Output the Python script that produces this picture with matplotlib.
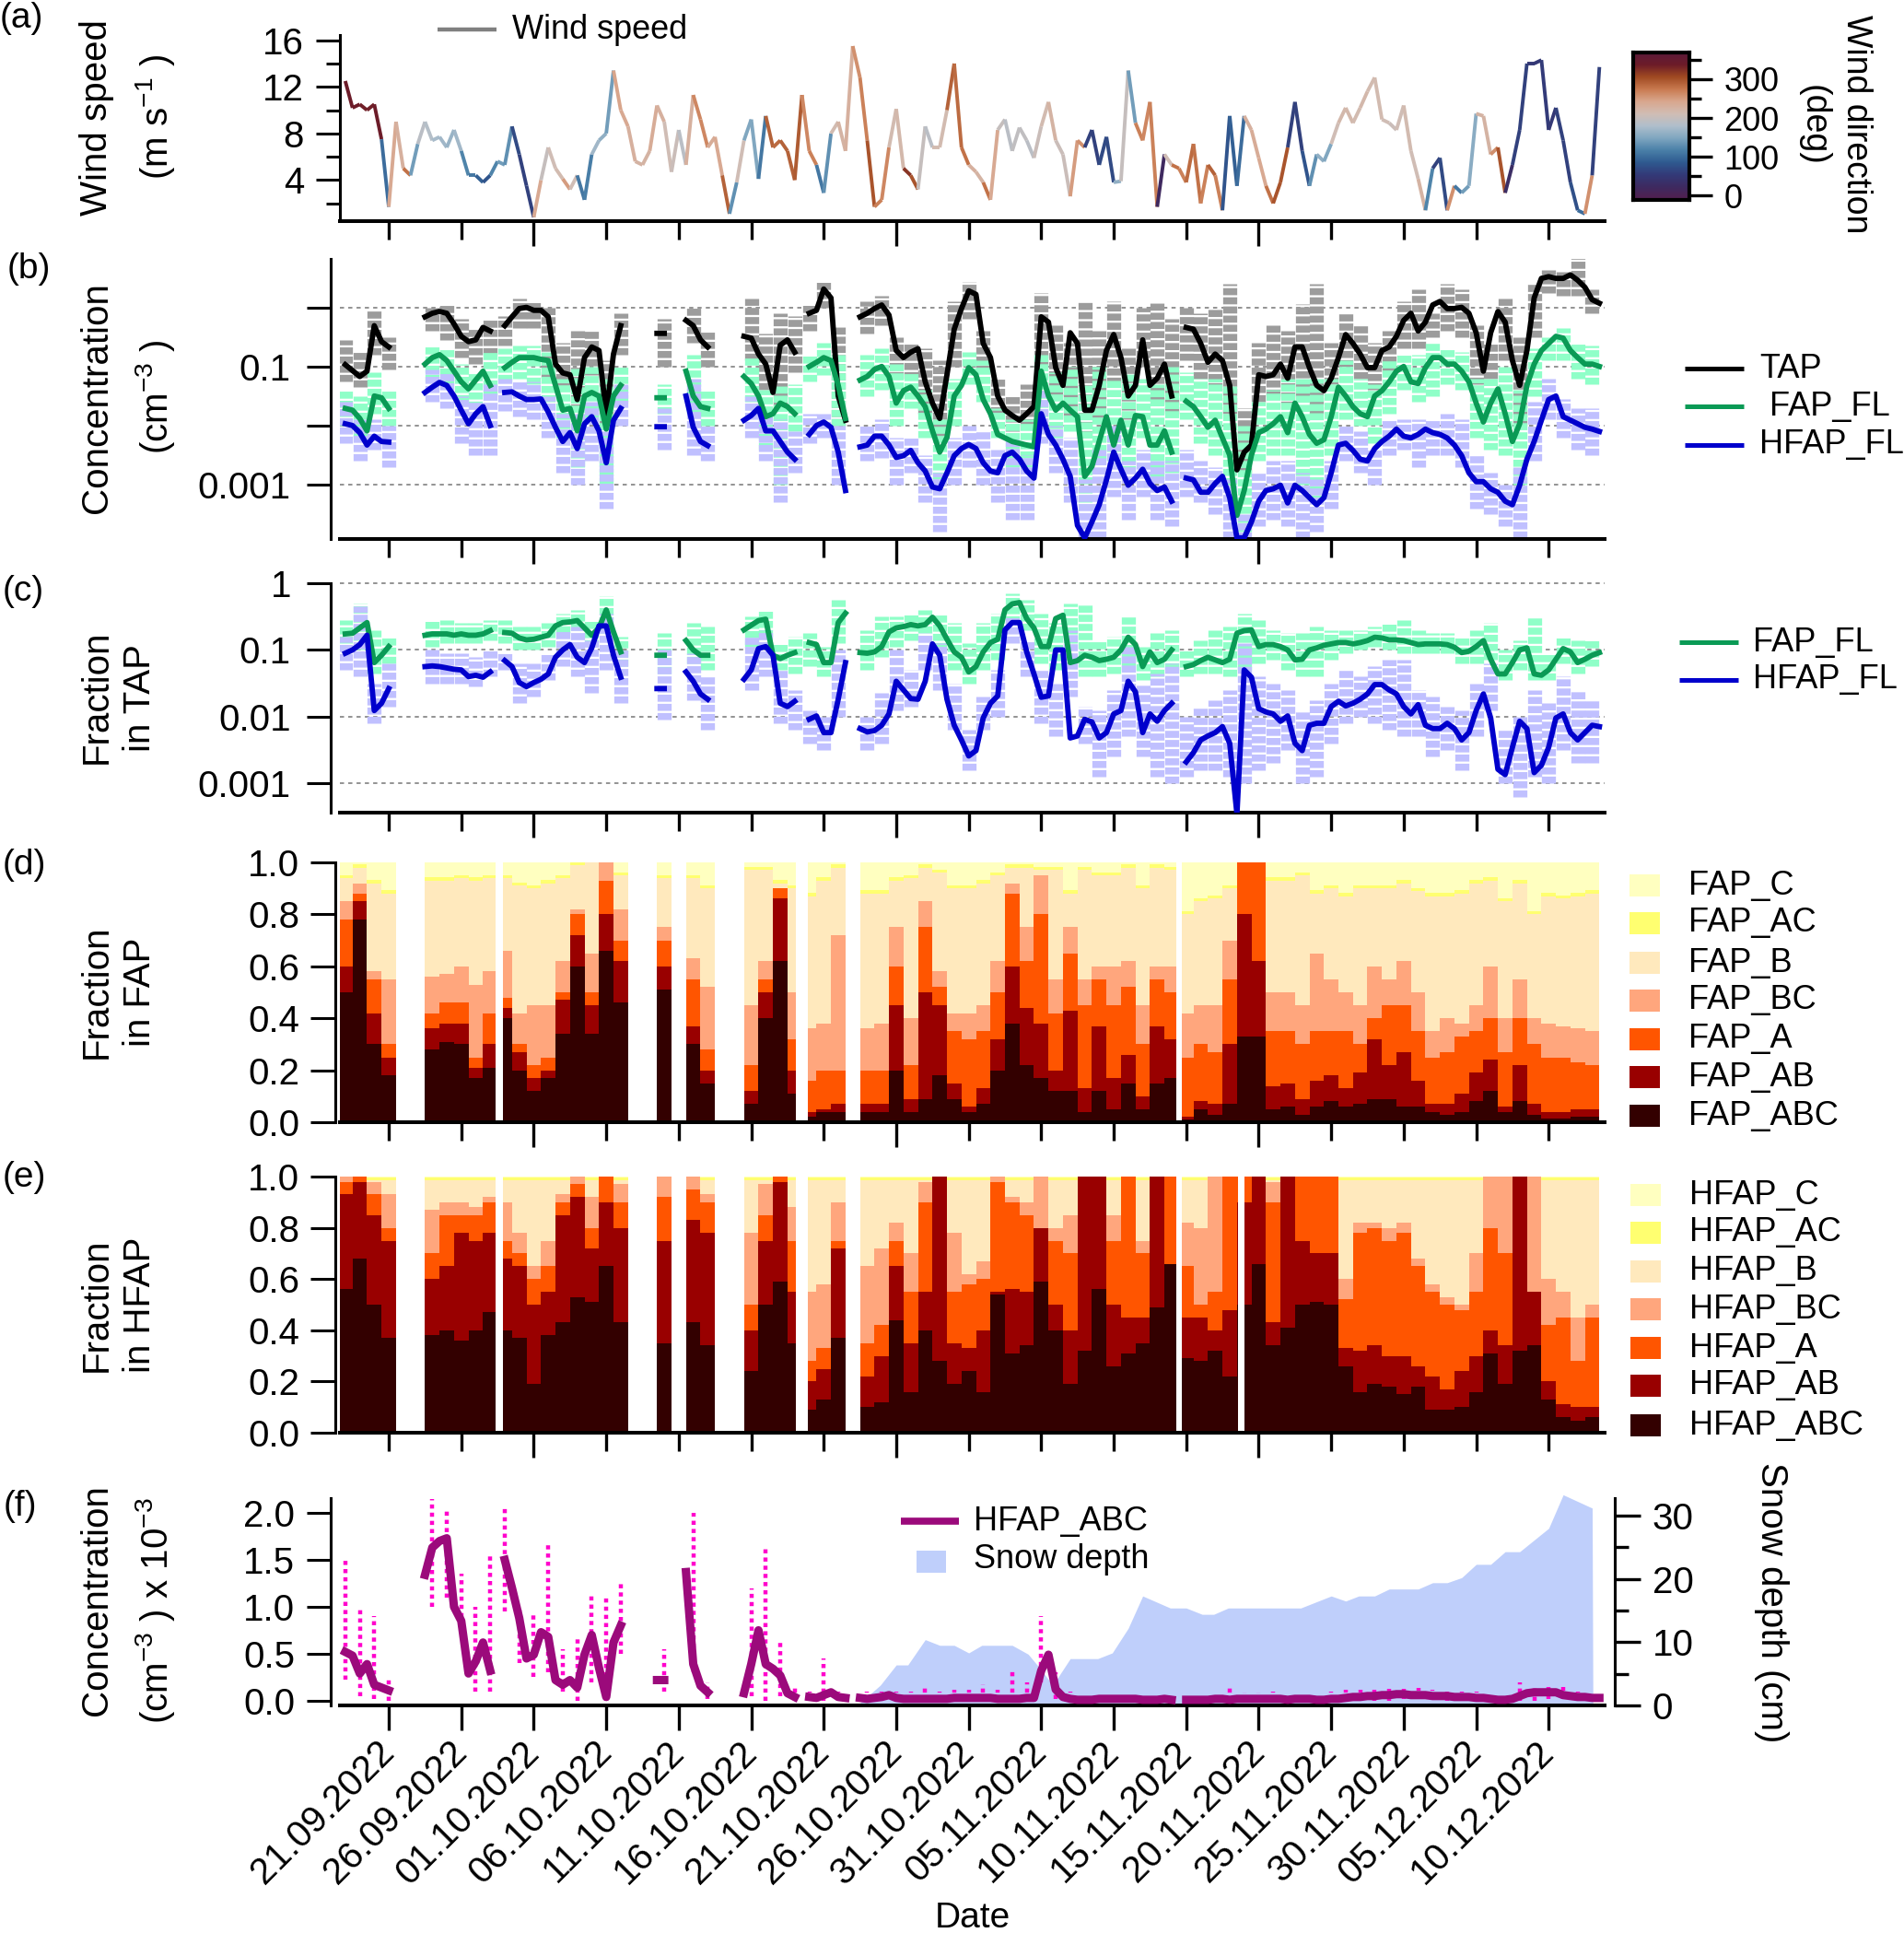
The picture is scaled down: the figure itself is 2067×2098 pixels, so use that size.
"""Six stacked panels: wind, FAP/HFAP concentrations, mixing-state fractions, snow depth.

Time axis is days since 21.09.2022. Line series sit on a half-day grid, the
spread and the stacked fractions on a one-day grid. One row = one 5-day tick.
Concentrations and fractions in (b) and (c) are kept as log10 values.
"""

import matplotlib

matplotlib.use("Agg")
import matplotlib.pyplot as plt
import numpy as np
from matplotlib.collections import LineCollection
from matplotlib.colors import LinearSegmentedColormap
from matplotlib.lines import Line2D
from matplotlib.patches import Rectangle

n = np.nan
W, H = 2067, 2098

date_ticks = [0, 5, 10, 15, 20, 25, 30, 35, 40, 45, 50, 55, 60, 65, 70, 75, 80]
date_labels = ["21.09.2022", "26.09.2022", "01.10.2022", "06.10.2022", "11.10.2022", "16.10.2022",
               "21.10.2022", "26.10.2022", "31.10.2022", "05.11.2022", "10.11.2022", "15.11.2022",
               "20.11.2022", "25.11.2022", "30.11.2022", "05.12.2022", "10.12.2022"]

wind_speed = [
    n, n, n, n, 12.5, 10.2, 10.5, 10.0, 10.5, 7.5,
    1.7, 9.0, 5.0, 4.4, 7.1, 9.0, 7.4, 7.7, 6.8, 8.3,
    6.5, 4.4, 4.4, 3.8, 4.4, 5.6, 5.3, 8.6, 6.2, 3.5,
    0.8, 4.0, 6.8, 5.0, 4.1, 3.2, 4.4, 2.3, 6.2, 7.4,
    8.0, 13.4, 10.0, 8.6, 5.6, 5.3, 6.5, 10.4, 9.0, 4.7,
    8.3, 5.3, 11.3, 9.2, 6.8, 7.7, 4.4, 1.1, 3.8, 7.4,
    9.2, 4.1, 9.5, 6.8, 7.4, 6.5, 4.0, 11.3, 6.5, 5.3,
    2.9, 8.0, 9.0, 6.5, 15.5, 12.8, 7.4, 1.7, 2.3, 6.8,
    10.1, 5.0, 4.4, 3.2, 8.6, 6.8, 6.8, 10.0, 14.0, 6.8,
    5.3, 4.7, 3.8, 2.3, 8.3, 9.2, 6.5, 8.5, 7.4, 5.9,
    8.6, 10.7, 7.4, 6.2, 2.6, 7.4, 6.8, 8.3, 5.3, 7.7,
    3.8, 3.9, 13.4, 8.9, 7.4, 10.7, 1.7, 6.2, 5.3, 5.0,
    3.8, 7.1, 2.0, 5.3, 4.4, 1.4, 9.5, 3.5, 9.5, 8.3,
    5.9, 3.5, 2.0, 3.8, 6.8, 10.7, 6.5, 3.5, 6.2, 5.6,
    7.1, 8.9, 10.2, 8.9, 10.2, 11.6, 12.8, 9.2, 8.9, 8.3,
    10.4, 6.5, 4.1, 1.4, 5.0, 5.9, 1.4, 3.5, 2.9, 3.5,
    9.7, 9.5, 6.2, 6.8, 2.9, 5.3, 8.3, 14.0, 14.0, 14.3,
    8.3, 10.2, 7.4, 3.8, 1.4, 1.1, 4.4, 13.7, n, n]
wind_dir = [
    n, n, n, n, 340, 340, 335, 335, 340, 100,
    240, 230, 280, 140, 190, 185, 175, 170, 165, 170,
    120, 110, 90, 80, 120, 140, 130, 70, 60, 60,
    240, 200, 210, 215, 250, 210, 110, 115, 170, 160,
    140, 245, 240, 230, 225, 225, 235, 230, 210, 205,
    190, 230, 265, 265, 235, 240, 290, 130, 210, 150,
    150, 110, 290, 285, 290, 290, 295, 265, 270, 110,
    130, 215, 225, 230, 260, 270, 300, 270, 265, 215,
    220, 320, 300, 200, 190, 215, 215, 290, 285, 280,
    230, 225, 280, 240, 200, 190, 195, 195, 190, 205,
    215, 225, 205, 205, 250, 260, 60, 60, 70, 70,
    160, 200, 140, 270, 265, 270, 20, 210, 280, 270,
    285, 280, 270, 290, 270, 80, 90, 100, 230, 235,
    240, 280, 300, 300, 60, 60, 80, 130, 160, 150,
    210, 220, 220, 215, 220, 215, 215, 210, 205, 210,
    215, 210, 225, 120, 60, 70, 260, 110, 140, 155,
    225, 225, 260, 300, 30, 60, 60, 50, 50, 55,
    50, 60, 60, 75, 100, 260, 60, 50, n, n]

tap_conc = [
    n, n, n, n, -0.97, -1.07, -1.17, -1.08, -0.31, -0.58,
    -0.67, n, n, n, n, -0.16, -0.1, -0.07, -0.1, -0.28,
    -0.49, -0.58, -0.55, -0.34, -0.4, n, -0.31, -0.16, -0.02, 0.0,
    -0.05, -0.05, -0.16, -0.96, -1.11, -1.14, -1.56, -0.85, -0.67, -0.73,
    -1.8, -0.79, -0.31, n, n, n, n, -0.44, -0.44, n,
    n, -0.22, -0.31, -0.55, -0.67, n, n, n, n, -0.49,
    -0.52, -0.79, -0.96, -1.44, -0.64, -0.55, -0.76, n, -0.1, -0.05,
    0.31, 0.16, -1.5, -1.91, n, -0.16, -0.1, -0.02, 0.04, -0.13,
    -0.73, -0.85, -0.76, -0.7, -1.26, -1.62, -1.88, -1.14, -0.37, -0.02,
    0.28, 0.22, -0.61, -0.85, -1.5, -1.74, -1.83, -1.91, -1.8, -1.68,
    -0.16, -0.25, -1.02, -1.32, -0.43, -0.61, -1.74, -1.74, -1.32, -0.73,
    -0.46, -0.85, -1.5, -1.32, -0.55, -1.32, -1.2, -0.96, -1.5, n,
    -0.34, -0.37, -0.61, -0.93, -0.79, -0.9, -1.32, -2.75, -2.45, -2.33,
    -1.14, -1.17, -1.14, -0.96, -1.2, -0.67, -0.67, -1.02, -1.32, -1.41,
    -1.2, -0.85, -0.46, -0.61, -0.79, -1.02, -1.02, -0.73, -0.67, -0.49,
    -0.22, -0.1, -0.4, -0.25, 0.04, 0.1, -0.02, -0.02, 0.0, -0.1,
    -0.43, -1.08, -0.43, -0.07, -0.25, -0.9, -1.32, -0.73, 0.16, 0.49,
    0.52, 0.49, 0.49, 0.55, 0.46, 0.34, 0.13, 0.07, n, n]
fap_conc = [
    n, n, n, n, -1.71, -1.74, -1.88, -2.09, -1.5, -1.53,
    -1.71, n, n, n, n, -0.96, -0.85, -0.8, -0.9, -1.08,
    -1.26, -1.38, -1.23, -1.08, -1.32, n, -1.02, -0.93, -0.85, -0.85,
    -0.85, -0.88, -0.9, -1.32, -1.74, -1.71, -2.09, -1.5, -1.44, -1.5,
    -2.06, -1.5, -1.32, n, n, n, n, -1.53, -1.53, n,
    n, -1.08, -1.5, -1.68, -1.71, n, n, n, n, -1.17,
    -1.29, -1.5, -1.85, -1.8, -1.62, -1.68, -1.8, n, -1.0, -0.93,
    -0.85, -0.9, -1.32, -1.88, n, -1.23, -1.17, -1.05, -1.0, -1.17,
    -1.62, -1.41, -1.35, -1.5, -1.68, -2.09, -2.45, -2.2, -1.5, -1.32,
    -1.02, -1.14, -1.56, -1.8, -2.15, -2.21, -2.27, -2.3, -2.33, -2.36,
    -1.08, -1.5, -1.74, -1.62, -1.74, -1.85, -2.86, -2.69, -2.27, -1.85,
    -2.33, -1.91, -2.33, -1.83, -1.85, -2.33, -2.33, -2.09, -2.45, n,
    -1.59, -1.68, -1.85, -2.03, -1.91, -2.21, -2.5, -3.52, -3.1, -2.5,
    -2.12, -2.06, -1.97, -1.85, -2.12, -1.62, -1.85, -2.15, -2.3, -2.24,
    -1.85, -1.35, -1.5, -1.68, -1.8, -1.85, -1.5, -1.41, -1.26, -1.08,
    -1.0, -1.26, -1.29, -1.02, -0.85, -0.85, -0.96, -0.96, -1.08, -1.26,
    -1.62, -1.94, -1.62, -1.38, -1.8, -2.27, -1.97, -1.32, -0.96, -0.73,
    -0.61, -0.49, -0.52, -0.73, -0.85, -0.96, -0.96, -1.0, n, n]
hfap_conc = [
    n, n, n, n, -1.97, -2.0, -2.12, -2.33, -2.18, -2.27,
    -2.28, n, n, n, n, -1.44, -1.35, -1.27, -1.32, -1.5,
    -1.74, -1.97, -1.8, -1.68, -2.0, n, -1.44, -1.43, -1.5, -1.56,
    -1.56, -1.55, -1.77, -2.03, -2.27, -2.12, -2.39, -1.97, -1.85, -2.09,
    -2.63, -1.91, -1.71, n, n, n, n, -2.02, -2.02, n,
    n, -1.5, -2.03, -2.27, -2.34, n, n, n, n, -1.91,
    -1.83, -1.71, -2.09, -2.09, -2.27, -2.45, -2.57, n, -2.15, -2.0,
    -1.94, -2.03, -2.45, -3.1, n, -2.36, -2.33, -2.18, -2.18, -2.33,
    -2.54, -2.51, -2.42, -2.63, -2.77, -3.04, -3.07, -2.8, -2.51, -2.39,
    -2.32, -2.39, -2.63, -2.77, -2.8, -2.51, -2.45, -2.57, -2.77, -2.89,
    -1.8, -2.15, -2.33, -2.57, -2.86, -3.69, -3.9, -3.63, -3.34, -2.92,
    -2.45, -2.74, -3.01, -2.89, -2.74, -2.98, -3.1, -3.04, -3.28, n,
    -2.89, -2.92, -3.13, -3.13, -2.98, -2.86, -3.22, -3.9, -3.9, -3.63,
    -3.28, -3.1, -3.07, -3.01, -3.31, -3.01, -3.1, -3.22, -3.34, -3.22,
    -2.8, -2.33, -2.3, -2.42, -2.57, -2.6, -2.39, -2.27, -2.18, -2.06,
    -2.18, -2.21, -2.15, -2.06, -2.12, -2.15, -2.21, -2.33, -2.51, -2.8,
    -2.95, -2.95, -3.07, -3.13, -3.28, -3.34, -3.01, -2.57, -2.27, -1.91,
    -1.56, -1.5, -1.85, -1.91, -1.97, -2.03, -2.06, -2.1, n, n]

# spread of the single points in (b)
tap_hi = [n, n, -0.55, -0.75, -0.05, -0.5, n, n, 0.0, 0.05, -0.2, -0.35, -0.2, -0.15, 0.15,
          0.1, 0.0, -0.6, -0.4, -0.4, -0.9, -0.1, n, n, -0.2, n, 0.0, -0.4, n, n,
          0.15, -0.45, -0.1, -0.15, 0.05, 0.45, -0.3, n, 0.1, 0.2, -0.5, -0.6, -0.7, -0.9, 0.1,
          0.43, -0.4, -1.2, -1.5, -1.3, 0.25, -0.3, -0.6, 0.1, -0.4, 0.1, -0.7, 0.0, 0.1, -0.2,
          0.0, -0.1, 0.0, 0.4, -1.7, -0.6, -0.3, -0.4, 0.05, 0.4, -0.6, -0.1, -0.3, -0.6, -0.4,
          0.1, 0.3, -0.1, 0.4, 0.3, -0.3, -0.6, 0.15, -0.5, 0.4, 0.63, 0.6, 0.87, 0.3, n]
tap_lo = [n, n, -1.25, -1.35, -0.8, -1.05, n, n, -0.4, -0.55, -0.85, -0.95, -0.8, -0.65, -0.35,
          -0.35, -1.2, -1.4, -1.75, -1.15, -2.0, -0.8, n, n, -1.0, n, -0.6, -1.0, n, n,
          -0.9, -1.4, -1.7, -1.1, -0.4, 0.0, -2.0, n, -0.45, -0.3, -1.2, -1.2, -1.8, -2.2, -1.0,
          -0.2, -1.1, -1.8, -2.1, -2.0, -1.0, -1.5, -1.9, -2.2, -1.9, -1.3, -1.9, -1.0, -1.6, -1.8,
          -0.9, -1.2, -1.4, -1.8, -2.8, -1.6, -1.5, -1.7, -1.5, -1.8, -1.3, -1.0, -1.2, -1.4, -1.1,
          -0.7, -0.7, -0.5, -0.4, -0.5, -1.3, -1.2, -0.9, -2.0, -0.5, 0.25, 0.2, 0.2, -0.1, n]
fap_hi = [n, n, -1.4, -1.5, -1.1, -1.4, n, n, -0.65, -0.7, -0.95, -1.1, -0.75, -0.7, -0.65,
          -0.65, -0.75, -1.2, -1.0, -1.0, -1.2, -1.0, n, n, -1.3, n, -0.8, -1.4, n, n,
          -0.85, -1.4, -1.3, -1.3, -0.8, -0.6, -0.8, n, -0.8, -0.7, -0.95, -1.1, -1.4, -1.9, -1.2,
          -0.75, -0.9, -1.7, -1.9, -1.9, -0.8, -1.1, -1.0, -1.3, -1.0, -1.2, -1.1, -1.2, -1.3, -1.0,
          -1.1, -1.2, -1.2, -1.3, -2.0, -1.6, -1.4, -1.2, -1.2, -1.2, -1.2, -0.9, -1.2, -1.3, -0.9,
          -0.8, -0.8, -0.6, -0.7, -0.75, -1.2, -1.2, -1.0, -1.4, -0.7, -0.5, -0.35, -0.6, -0.65, n]
fap_lo = [n, n, -2.0, -2.2, -1.8, -2.0, n, n, -1.25, -1.3, -1.6, -1.7, -1.5, -1.25, -1.2,
          -1.3, -1.6, -2.2, -2.7, -1.9, -3.0, -1.6, n, n, -1.8, n, -1.8, -2.0, n, n,
          -1.6, -2.4, -3.0, -2.1, -1.25, -1.15, -2.0, n, -1.5, -1.4, -2.0, -1.7, -2.2, -2.9, -2.0,
          -1.3, -1.6, -2.2, -2.7, -2.7, -2.0, -2.2, -2.1, -3.3, -2.6, -2.6, -2.8, -2.2, -2.9, -2.8,
          -1.9, -2.3, -2.5, -3.0, -3.8, -2.6, -2.5, -2.5, -3.0, -3.3, -2.5, -1.9, -2.0, -2.3, -1.8,
          -1.4, -1.6, -1.5, -1.3, -1.4, -2.2, -2.4, -2.5, -3.0, -1.5, -0.9, -0.9, -1.2, -1.3, n]
hfap_hi = [n, n, -1.6, -1.9, -1.9, -2.0, n, n, -1.05, -1.1, -1.5, -1.6, -1.3, -1.2, -1.25,
           -1.25, -1.5, -1.8, -1.8, -1.6, -2.1, -1.3, n, n, -1.7, n, -1.2, -2.0, n, n,
           -1.5, -1.8, -1.9, -2.1, -1.8, -1.8, -2.0, n, -2.0, -1.9, -2.2, -2.2, -2.5, -2.8, -2.2,
           -2.0, -2.1, -2.4, -2.2, -2.5, -1.4, -2.0, -2.2, -2.9, -2.4, -2.0, -2.6, -2.4, -2.6, -2.6,
           -2.4, -2.6, -2.7, -2.9, -3.5, -2.8, -2.6, -2.6, -2.8, -2.9, -2.6, -2.0, -2.1, -2.4, -1.9,
           -1.9, -1.9, -1.9, -1.8, -1.9, -2.5, -2.8, -3.0, -2.7, -1.6, -1.2, -1.55, -1.7, -1.7, n]
hfap_lo = [n, n, -2.3, -2.6, -2.4, -2.7, n, n, -1.6, -1.7, -2.3, -2.5, -2.5, -1.75, -1.85,
           -1.9, -2.2, -2.8, -3.0, -2.6, -3.4, -2.0, n, n, -2.4, n, -2.5, -2.6, n, n,
           -2.2, -2.6, -3.3, -2.8, -2.3, -2.2, -3.0, n, -2.6, -2.55, -3.0, -2.8, -3.3, -3.8, -3.0,
           -2.7, -3.0, -3.3, -3.6, -3.6, -2.3, -2.8, -3.3, -3.9, -3.9, -3.2, -3.6, -3.2, -3.6, -3.7,
           -3.2, -3.3, -3.5, -3.9, -3.92, -3.7, -3.6, -3.7, -3.9, -3.8, -3.4, -2.6, -2.8, -3.0, -2.5,
           -2.4, -2.7, -2.5, -2.5, -2.7, -3.4, -3.5, -3.7, -3.9, -2.6, -1.9, -2.2, -2.4, -2.5, n]

fap_in_tap = [
    n, n, n, n, -0.76, -0.75, -0.67, -0.59, -1.19, -1.08,
    -0.95, n, n, n, n, -0.78, -0.76, -0.76, -0.76, -0.78,
    -0.76, -0.78, -0.78, -0.76, -0.71, n, -0.74, -0.75, -0.82, -0.85,
    -0.84, -0.81, -0.78, -0.64, -0.59, -0.58, -0.56, -0.67, -0.78, -0.67,
    -0.4, -0.73, -1.03, n, n, n, n, -1.08, -1.08, n,
    n, -0.86, -1.0, -1.08, -1.08, n, n, n, n, -0.7,
    -0.63, -0.56, -0.54, -1.08, -1.13, -1.08, -1.04, n, -0.89, -0.92,
    -1.19, -1.19, -0.59, -0.45, n, -1.04, -1.05, -1.03, -0.95, -0.73,
    -0.67, -0.65, -0.62, -0.64, -0.62, -0.51, -0.64, -0.84, -1.03, -1.11,
    -1.33, -1.25, -1.03, -0.89, -0.84, -0.4, -0.31, -0.29, -0.53, -0.67,
    -0.95, -0.95, -0.53, -0.48, -1.19, -1.16, -1.08, -1.11, -1.16, -1.14,
    -1.11, -1.0, -0.81, -0.92, -1.25, -1.03, -1.19, -1.14, -1.0, n,
    -1.25, -1.22, -1.16, -1.11, -1.15, -1.19, -1.14, -0.75, -0.71, -0.7,
    -0.95, -0.92, -0.92, -0.95, -1.0, -1.15, -1.14, -1.0, -0.97, -0.93,
    -0.91, -0.89, -0.89, -0.91, -0.89, -0.86, -0.81, -0.82, -0.85, -0.85,
    -0.86, -0.89, -0.92, -0.91, -0.91, -0.91, -0.92, -0.96, -1.04, -1.02,
    -0.95, -0.86, -1.14, -1.36, -1.36, -1.19, -1.0, -0.97, -1.36, -1.38,
    -1.3, -1.14, -0.98, -1.03, -1.19, -1.14, -1.08, -1.04, n, n]
hfap_in_tap = [
    n, n, n, n, -1.05, -1.0, -0.92, -0.78, -1.91, -1.8,
    -1.58, n, n, n, n, -1.25, -1.24, -1.25, -1.27, -1.29,
    -1.3, -1.4, -1.38, -1.41, -1.33, n, -1.16, -1.25, -1.49, -1.55,
    -1.49, -1.44, -1.36, -1.11, -1.0, -0.92, -1.11, -1.19, -0.97, -0.64,
    -0.64, -1.08, -1.41, n, n, n, n, -1.58, -1.58, n,
    n, -1.33, -1.47, -1.66, -1.74, n, n, n, n, -1.44,
    -1.3, -0.98, -0.95, -1.08, -1.8, -1.85, -1.77, n, -2.04, -1.99,
    -2.24, -2.24, -1.74, -1.19, n, -2.18, -2.23, -2.21, -2.13, -1.96,
    -1.47, -1.6, -1.73, -1.74, -1.47, -0.91, -1.08, -1.74, -2.13, -2.35,
    -2.59, -2.51, -2.02, -1.8, -1.69, -0.7, -0.59, -0.59, -1.03, -1.36,
    -1.71, -1.69, -1.0, -1.0, -2.32, -2.29, -2.04, -2.08, -2.32, -2.24,
    -1.96, -1.91, -1.47, -1.63, -2.24, -1.96, -2.07, -1.91, -1.8, n,
    -2.68, -2.54, -2.35, -2.29, -2.24, -2.15, -2.4, -3.46, -1.3, -1.41,
    -1.88, -1.93, -1.96, -2.07, -1.99, -2.4, -2.51, -2.13, -2.1, -2.1,
    -1.85, -1.77, -1.84, -1.8, -1.74, -1.66, -1.52, -1.52, -1.6, -1.66,
    -1.85, -1.96, -1.82, -2.13, -2.18, -2.18, -2.1, -2.18, -2.35, -2.24,
    -1.91, -1.66, -2.02, -2.79, -2.87, -2.46, -2.07, -2.18, -2.84, -2.73,
    -2.46, -2.02, -1.96, -2.24, -2.35, -2.24, -2.13, -2.15, n, n]

# spread of the single points in (c)
fap_in_tap_hi = [n, n, -0.55, -0.3, -0.7, -0.8, n, n, -0.55, -0.55, -0.6, -0.6, -0.55, -0.55, -0.65,
                 -0.65, -0.6, -0.45, -0.4, -0.55, -0.2, -0.8, n, n, -0.75, n, -0.6, -0.65, n, n,
                 -0.5, -0.4, -0.9, -0.8, -0.75, -0.95, -0.25, n, -0.7, -0.5, -0.5, -0.45, -0.4, -0.45, -0.6,
                 -0.9, -0.6, -0.45, -0.15, -0.25, -0.45, -0.6, -0.3, -0.3, -0.85, -0.8, -0.5, -0.95, -0.75, -0.7,
                 -1.0, -0.85, -0.7, -0.65, -0.45, -0.55, -0.7, -0.75, -0.75, -0.65, -0.7, -0.7, -0.7, -0.65, -0.6,
                 -0.55, -0.7, -0.75, -0.75, -0.8, -0.7, -0.6, -1.0, -0.85, -0.5, -1.05, -0.8, -0.85, -0.85, n]
fap_in_tap_lo = [n, n, -0.9, -1.0, -1.35, -1.2, n, n, -0.95, -0.9, -0.9, -0.9, -0.85, -0.9, -1.0,
                 -1.0, -0.95, -0.75, -0.7, -0.95, -0.75, -1.25, n, n, -1.35, n, -1.2, -1.3, n, n,
                 -0.95, -0.8, -1.3, -1.35, -1.25, -1.4, -0.9, n, -1.3, -1.1, -0.95, -0.85, -0.75, -1.0, -1.3,
                 -1.5, -1.3, -1.15, -0.6, -0.7, -1.2, -1.3, -0.9, -1.4, -1.4, -1.35, -1.3, -1.45, -1.4, -1.3,
                 -1.4, -1.35, -1.35, -1.4, -1.3, -1.2, -1.15, -1.3, -1.4, -1.4, -1.15, -1.05, -1.0, -0.95, -1.0,
                 -1.05, -1.05, -1.05, -1.05, -1.2, -1.2, -1.15, -1.45, -1.3, -1.45, -1.45, -1.2, -1.35, -1.25, n]
hfap_in_tap_hi = [n, n, -0.8, -0.35, -1.5, -1.2, n, n, -1.0, -1.05, -1.05, -1.1, -1.0, -1.05, -1.2,
                  -1.2, -1.05, -0.7, -0.65, -0.85, -0.45, -1.0, n, n, -1.0, n, -1.05, -1.4, n, n,
                  -0.8, -0.7, -1.3, -1.6, -1.9, -2.0, -1.0, n, -2.0, -1.65, -1.0, -1.3, -0.75, -0.9, -1.5,
                  -2.2, -1.7, -1.3, -0.5, -0.85, -1.3, -1.5, -0.7, -1.85, -1.9, -1.6, -0.95, -1.5, -1.35, -1.2,
                  -2.0, -1.85, -1.75, -1.6, -0.9, -1.4, -1.5, -1.6, -1.9, -1.75, -1.5, -1.3, -1.4, -1.25, -1.15,
                  -1.15, -1.6, -1.7, -1.85, -1.9, -1.5, -1.2, -2.2, -2.0, -1.6, -1.8, -1.4, -1.6, -1.75, n]
hfap_in_tap_lo = [n, n, -1.3, -1.4, -2.1, -1.85, n, n, -1.5, -1.5, -1.5, -1.55, -1.4, -1.3, -1.8,
                  -1.7, -1.45, -1.25, -1.4, -1.65, -1.3, -1.8, n, n, -2.05, n, -1.75, -2.2, n, n,
                  -1.6, -1.4, -2.1, -2.2, -2.4, -2.5, -2.0, n, -2.5, -2.4, -1.9, -1.85, -1.3, -1.6, -2.2,
                  -2.8, -2.2, -2.0, -0.9, -1.4, -2.1, -2.3, -1.7, -2.4, -2.9, -2.6, -2.3, -2.6, -2.9, -3.0,
                  -2.9, -2.8, -2.8, -2.9, -3.0, -2.8, -2.7, -2.5, -3.0, -2.9, -2.4, -2.1, -2.0, -2.1, -2.2,
                  -2.3, -2.3, -2.6, -2.5, -2.8, -2.3, -1.9, -3.0, -3.2, -2.9, -3.0, -2.5, -2.7, -2.7, n]

# (d) upper edges of the stacked classes, one value per day
fap_abc = [n, n, 0.5, 0.78, 0.3, 0.18, n, n, 0.28, 0.31, 0.3, 0.17, 0.21, 0.4, 0.2,
           0.12, 0.17, 0.34, 0.6, 0.34, 0.66, 0.46, n, n, 0.51, n, 0.3, 0.15, n, n,
           0.07, 0.4, 0.62, 0.11, 0.02, 0.04, 0.04, n, 0.04, 0.04, 0.2, 0.04, 0.09, 0.18, 0.09,
           0.04, 0.07, 0.2, 0.38, 0.22, 0.17, 0.12, 0.12, 0.04, 0.12, 0.05, 0.15, 0.05, 0.15, 0.17,
           0.01, 0.05, 0.03, 0.07, 0.33, 0.33, 0.05, 0.06, 0.03, 0.06, 0.08, 0.06, 0.07, 0.09, 0.09,
           0.06, 0.06, 0.04, 0.03, 0.04, 0.08, 0.12, 0.04, 0.08, 0.03, 0.015, 0.015, 0.02, 0.02, n]
fap_ab = [n, n, 0.6, 0.85, 0.42, 0.25, n, n, 0.36, 0.38, 0.38, 0.21, 0.3, 0.44, 0.27,
          0.17, 0.2, 0.47, 0.72, 0.45, 0.8, 0.62, n, n, 0.6, n, 0.37, 0.2, n, n,
          0.12, 0.5, 0.86, 0.2, 0.04, 0.05, 0.07, n, 0.07, 0.07, 0.45, 0.09, 0.5, 0.45, 0.15,
          0.06, 0.13, 0.32, 0.6, 0.44, 0.38, 0.2, 0.43, 0.13, 0.37, 0.17, 0.26, 0.1, 0.37, 0.32,
          0.02, 0.08, 0.07, 0.3, 0.8, 0.62, 0.14, 0.15, 0.09, 0.16, 0.18, 0.13, 0.19, 0.32, 0.22,
          0.27, 0.16, 0.07, 0.07, 0.11, 0.19, 0.24, 0.06, 0.22, 0.07, 0.04, 0.04, 0.05, 0.05, n]
fap_a = [n, n, 0.78, 0.88, 0.55, 0.3, n, n, 0.42, 0.46, 0.46, 0.25, 0.42, 0.48, 0.3,
         0.22, 0.25, 0.5, 0.8, 0.5, 0.93, 0.7, n, n, 0.7, n, 0.55, 0.28, n, n,
         0.22, 0.55, 0.9, 0.32, 0.16, 0.2, 0.2, n, 0.2, 0.2, 0.6, 0.22, 0.75, 0.52, 0.35,
         0.32, 0.35, 0.5, 0.88, 0.62, 0.8, 0.42, 0.65, 0.45, 0.55, 0.45, 0.52, 0.3, 0.55, 0.5,
         0.25, 0.3, 0.27, 0.55, 1.0, 1.0, 0.35, 0.35, 0.3, 0.35, 0.35, 0.35, 0.3, 0.4, 0.45,
         0.45, 0.35, 0.25, 0.27, 0.33, 0.35, 0.4, 0.27, 0.4, 0.3, 0.25, 0.25, 0.23, 0.22, n]
fap_bc = [n, n, 0.85, 0.92, 0.58, 0.55, n, n, 0.56, 0.57, 0.6, 0.53, 0.58, 0.66, 0.42,
          0.45, 0.45, 0.62, 0.82, 0.65, 1.0, 0.82, n, n, 0.75, n, 0.63, 0.52, n, n,
          0.45, 0.62, 0.9, 0.5, 0.36, 0.38, 0.72, n, 0.36, 0.38, 0.75, 0.4, 0.85, 0.58, 0.42,
          0.42, 0.45, 0.62, 0.92, 0.75, 0.95, 0.55, 0.75, 0.55, 0.6, 0.6, 0.62, 0.45, 0.6, 0.6,
          0.42, 0.45, 0.45, 0.7, 1.0, 1.0, 0.5, 0.5, 0.45, 0.65, 0.55, 0.5, 0.45, 0.6, 0.55,
          0.62, 0.5, 0.35, 0.4, 0.38, 0.45, 0.6, 0.4, 0.55, 0.4, 0.38, 0.37, 0.36, 0.35, n]
fap_b = [n, n, 0.94, 0.98, 0.92, 0.88, n, n, 0.93, 0.93, 0.94, 0.93, 0.94, 0.94, 0.91,
         0.9, 0.92, 0.94, 0.99, 1.0, 1.0, 0.95, n, n, 0.94, n, 0.94, 0.9, n, n,
         0.97, 0.97, 0.92, 0.9, 0.87, 0.93, 0.98, n, 0.88, 0.88, 0.93, 0.94, 0.98, 0.96, 0.9,
         0.9, 0.92, 0.95, 0.98, 0.98, 0.97, 0.97, 0.88, 0.97, 0.95, 0.95, 0.98, 0.9, 0.98, 0.97,
         0.8, 0.85, 0.86, 0.9, 1.0, 1.0, 0.93, 0.93, 0.95, 0.88, 0.9, 0.87, 0.9, 0.9, 0.9,
         0.92, 0.89, 0.87, 0.87, 0.88, 0.92, 0.93, 0.85, 0.92, 0.8, 0.87, 0.86, 0.87, 0.88, n]

# (e) upper edges of the stacked classes, one value per day
hfap_abc = [n, n, 0.56, 0.68, 0.5, 0.37, n, n, 0.38, 0.4, 0.36, 0.4, 0.47, 0.4, 0.37,
            0.19, 0.38, 0.43, 0.53, 0.51, 0.65, 0.43, n, n, 0.35, n, 0.43, 0.34, n, n,
            0.24, 0.5, 0.59, 0.35, 0.09, 0.13, 0.37, n, 0.1, 0.12, 0.44, 0.16, 0.4, 0.28, 0.19,
            0.24, 0.16, 0.54, 0.31, 0.34, 0.59, 0.4, 0.19, 0.32, 0.56, 0.26, 0.31, 0.35, 0.49, 0.66,
            0.29, 0.28, 0.32, 0.22, 0.5, 0.66, 0.34, 0.41, 0.5, 0.51, 0.5, 0.26, 0.16, 0.19, 0.18,
            0.15, 0.18, 0.09, 0.09, 0.1, 0.16, 0.31, 0.19, 0.32, 0.34, 0.13, 0.06, 0.045, 0.06, n]
hfap_ab = [n, n, 0.93, 0.98, 0.85, 0.75, n, n, 0.6, 0.65, 0.78, 0.75, 0.78, 0.68, 0.65,
           0.5, 0.55, 0.85, 0.92, 0.72, 0.9, 0.8, n, n, 0.75, n, 0.83, 0.78, n, n,
           0.4, 0.75, 0.98, 0.55, 0.2, 0.25, 0.72, n, 0.22, 0.3, 0.65, 0.35, 0.55, 1.0, 0.35,
           0.33, 0.4, 0.55, 0.56, 0.55, 0.8, 0.5, 0.4, 1.0, 1.0, 0.5, 0.45, 0.45, 1.0, 0.66,
           0.45, 0.45, 0.4, 0.48, 0.9, 1.0, 0.43, 1.0, 0.75, 0.7, 0.7, 0.33, 0.32, 0.34, 0.3,
           0.3, 0.26, 0.22, 0.17, 0.24, 0.3, 0.4, 0.34, 1.0, 0.55, 0.2, 0.11, 0.1, 0.1, n]
hfap_a = [n, n, 0.98, 1.0, 0.93, 0.8, n, n, 0.7, 0.85, 0.85, 0.85, 0.9, 0.75, 0.7,
          0.6, 0.65, 0.9, 0.97, 0.8, 1.0, 0.9, n, n, 0.92, n, 0.95, 0.9, n, n,
          0.5, 0.85, 1.0, 0.75, 0.28, 0.33, 0.75, n, 0.35, 0.42, 0.75, 0.55, 0.9, 1.0, 0.55,
          0.58, 0.6, 0.98, 0.9, 0.85, 0.8, 0.75, 0.7, 1.0, 1.0, 0.75, 1.0, 0.7, 1.0, 1.0,
          0.65, 0.5, 0.55, 1.0, 1.0, 1.0, 0.9, 1.0, 1.0, 1.0, 1.0, 0.52, 0.78, 0.8, 0.75,
          0.78, 0.65, 0.55, 0.5, 0.48, 0.55, 0.8, 0.7, 1.0, 0.55, 0.42, 0.45, 0.28, 0.45, n]
hfap_bc = [n, n, 1.0, 1.0, 0.98, 0.93, n, n, 0.87, 0.9, 0.9, 0.88, 0.92, 0.9, 0.78,
           0.65, 0.75, 0.93, 1.0, 0.92, 1.0, 0.97, n, n, 1.0, n, 1.0, 0.93, n, n,
           0.78, 0.97, 1.0, 0.88, 0.55, 0.58, 0.9, n, 0.65, 0.72, 0.82, 0.7, 0.98, 1.0, 0.78,
           0.62, 0.67, 1.0, 0.92, 0.9, 1.0, 0.8, 0.85, 1.0, 1.0, 0.85, 1.0, 0.75, 1.0, 1.0,
           0.82, 0.8, 1.0, 1.0, 1.0, 1.0, 0.98, 1.0, 1.0, 1.0, 1.0, 0.6, 0.82, 0.82, 0.8,
           0.82, 0.68, 0.58, 0.53, 0.5, 0.7, 1.0, 1.0, 1.0, 1.0, 0.6, 0.55, 0.45, 0.5, n]
HFAP_B_TOP = 0.985
AC_LAYER = 0.012

hfap_abc_conc = [
    n, n, n, n, .52, .48, .29, .39, .17, .14,
    .11, n, n, n, n, 1.34, 1.63, 1.7, 1.73, 1.0,
    .85, .29, .42, .62, .32, n, 1.5, 1.2, .88, .45,
    .49, .73, .68, .22, .17, .22, .14, .49, .7, .35,
    .04, .62, .8, n, n, n, n, .22, .22, n,
    n, 1.37, .39, .16, .09, n, n, n, n, .08,
    .39, .75, .39, .34, .27, .08, .04, n, .04, .03,
    .06, .09, .04, .03, n, .03, .02, .03, .04, .06,
    .03, .02, .02, .02, .02, .02, .02, .02, .03, .03,
    .03, .03, .03, .03, .02, .02, .02, .02, .03, .03,
    .32, .49, .12, .04, .02, .01, .01, .01, .02, .02,
    .02, .02, .02, .02, .01, .01, .01, .02, .01, n,
    .01, .01, .01, .01, .02, .02, .01, .02, .02, .02,
    .02, .02, .02, .02, .01, .02, .02, .02, .01, .01,
    .02, .02, .03, .04, .04, .05, .05, .06, .06, .07,
    .07, .06, .06, .06, .05, .05, .05, .04, .04, .04,
    .03, .03, .02, .01, .01, .02, .05, .08, .09, .09,
    .09, .09, .06, .05, .04, .04, .03, .03, n, n]
hfap_abc_hi = [n, n, 1.5, .98, .9, .25, n, n, 2.15, 2.05, 1.35, 1.0, 1.55, 2.05, 1.0,
               .95, 1.7, .55, .7, 1.15, 1.1, 1.25, n, n, .55, n, 2.0, .2, n, n,
               1.2, 1.65, .65, .15, .1, .45, .1, n, .1, .1, .1, .1, .15, .1, .12,
               .12, .18, .12, .32, .2, .9, .3, .1, .08, .08, .08, .08, .08, .08, .08,
               .07, .07, .07, .15, .09, .09, .1, .08, .08, .08, .1, .12, .12, .12, .13,
               .13, .14, .12, .1, .1, .1, .08, .07, .2, .15, .15, .15, .1, .08, n]
hfap_abc_lo = [n, n, .22, .05, .02, .0, n, n, 1.0, 1.1, .8, .1, .1, .95, .4,
               .25, .3, .1, .0, .2, .0, .5, n, n, .1, n, .3, .02, n, n,
               .05, .0, .05, .0, .0, .0, .0, n, .0, .0, .0, .0, .0, .0, .0,
               .0, .0, .0, .0, .0, .2, .02, .0, .0, .0, .0, .0, .0, .0, .0,
               .0, .0, .0, .0, .0, .0, .0, .0, .0, .0, .0, .0, .0, .0, .0,
               .02, .02, .02, .0, .0, .0, .0, .0, .0, .0, .02, .02, .0, .0, n]

snow_days = [32.3, 33.9, 35.0, 35.8, 37.0, 38.0, 39.0, 40.0, 40.9, 43.0, 44.1, 44.9, 45.8, 47.0, 48.9,
             49.9, 51.0, 52.0, 53.9, 55.0, 56.1, 56.9, 57.9, 62.9, 65.0, 66.0, 66.9, 68.0, 69.0,
             71.0, 72.0, 73.0, 74.0, 75.0, 76.0, 77.0, 78.0, 80.0, 81.0, 83.0, 83.05]
snow_depth = [0, 3.2, 6.4, 6.4, 10.4, 9.5, 9.5, 8.3, 9.5, 9.5, 8.1, 5.9, 3.2, 7.4, 7.4,
              8.3, 12.2, 17.3, 15.4, 15.4, 14.4, 14.4, 15.4, 15.4, 17.3, 16.5, 17.3, 17.3, 18.4,
              18.4, 19.4, 19.4, 20.2, 22.3, 22.3, 24.3, 24.3, 28.0, 33.3, 31.2, 0]

gap_spans = [(7.35, 7.9), (28.05, 28.9), (31.6, 32.45), (54.3, 54.7)]
wind_colors = ["#52204e", "#3e2a60", "#333a78", "#2f5a90", "#4a80a8", "#7fa6c0", "#b0bfcc", "#d1bdb4",
               "#d9a78e", "#c97a50", "#a04a22", "#6d1c28", "#5a1a3a"]
stack_colors = {"C": "#ffffc0", "AC": "#ffff70", "B": "#ffe9bd", "BC": "#ffa67d",
                "A": "#ff5500", "AB": "#990000", "ABC": "#330000"}
stack_names = ["C", "AC", "B", "BC", "A", "AB", "ABC"]
grid_color = "#8a8a8a"
tap_color, tap_light = "#000000", "#9c9c9c"
fap_color, fap_light = "#0a9a55", "#8fffc8"
hfap_color, hfap_light = "#0000cc", "#c0c0ff"
abc_color, abc_light = "#9b0a7b", "#ff00cc"
snow_color = "#bfcffb"

half_days = np.arange(-5, 85, 0.5)
whole_days = np.arange(-5, 85, 1.0)
wind_cmap = LinearSegmentedColormap.from_list("wind", wind_colors)


def px_axes(fig, left, right, top, bottom):
    return fig.add_axes([left / W, 1 - bottom / H, (right - left) / W, (bottom - top) / H])


def label(fig, x, y, s, size=29, rot=0, ha="center"):
    fig.text(x / W, 1 - y / H, s, fontsize=size, rotation=rot, ha=ha, va="center",
             rotation_mode="anchor" if rot else "default")


def style_axes(ax, left_offset, long_ticks=(10, 35, 60)):
    ax.set_xlim(-3.37, 83.86)
    for side in ("top", "right"):
        ax.spines[side].set_visible(False)
    ax.spines["bottom"].set_linewidth(2.9)
    ax.spines["left"].set_linewidth(2.2)
    ax.spines["left"].set_position(("outward", left_offset * 0.72))
    short = [t for t in date_ticks if t not in long_ticks]
    ax.set_xticks(list(long_ticks))
    ax.set_xticks(short, minor=True)
    ax.tick_params(axis="x", which="major", length=19.4, width=2.4, labelbottom=False)
    ax.tick_params(axis="x", which="minor", length=14.4, width=2.4)


def draw_spread(ax, lo, hi, color):
    ax.vlines(whole_days, 10.0 ** np.array(lo), 10.0 ** np.array(hi), colors=color, lw=11,
              linestyles=(0, (0.5, 0.15)), zorder=1)


def draw_gridlines(ax, decades):
    for d in decades:
        ax.axhline(10.0 ** d, color=grid_color, lw=1.3, ls=(0, (2.5, 2.5)), zorder=0.5, clip_on=False)


def draw_stack(ax, edges, extra_gaps=()):
    # biggest edge first, each bar painted from zero over the previous one
    valid = ~np.isnan(np.array(edges[-1], dtype=float))
    for name, top in edges_in_order(edges, valid):
        ax.bar(whole_days, top, width=1.0, color=stack_colors[name], lw=0, antialiased=False, zorder=1)
    for a, b in list(gap_spans) + list(extra_gaps):
        ax.axvspan(a, b, color="white", lw=0, zorder=1.5)
    ax.set_ylim(0, 1)
    ax.set_yticks([0, 0.2, 0.4, 0.6, 0.8, 1.0])
    ax.set_yticklabels(["0.0", "0.2", "0.4", "0.6", "0.8", "1.0"])
    ax.tick_params(axis="y", length=19.4, width=2.2, pad=8.5, labelsize=29)


def edges_in_order(edges, valid):
    b, bc, a, ab, abc = [np.array(e, dtype=float) * np.ones(len(whole_days)) for e in edges]
    b = np.where(valid, b, n)
    full = np.where(valid, 1.0, n)
    return [("C", full), ("AC", np.minimum(b + AC_LAYER, 1.0)), ("B", b),
            ("BC", bc), ("A", a), ("AB", ab), ("ABC", abc)]


def legend_line(fig, x0, x1, y, color, lw=3.2):
    fig.add_artist(Line2D([x0 / W, x1 / W], [1 - y / H, 1 - y / H], color=color, lw=lw,
                          transform=fig.transFigure, solid_capstyle="butt"))


def legend_box(fig, x0, x1, y, height, color):
    fig.add_artist(Rectangle((x0 / W, 1 - (y + height / 2) / H), (x1 - x0) / W, height / H,
                             color=color, lw=0, transform=fig.transFigure))


def main():
    plt.rcParams.update({
        "font.family": ["Liberation Sans", "DejaVu Sans"],
        "font.size": 26,
        "mathtext.fontset": "custom",
        "mathtext.rm": "Liberation Sans",
        "mathtext.default": "regular",
        "xtick.labelsize": 26,
        "ytick.labelsize": 26,
    })
    fig = plt.figure(figsize=(W / 100, H / 100), dpi=100)

    # (a) wind speed coloured by direction
    ax = px_axes(fig, 369, 1742, 38, 239.5)
    style_axes(ax, 0)
    speed = np.array(wind_speed, dtype=float)
    direction = np.array(wind_dir, dtype=float)
    segs, seg_dir = [], []
    for i in range(len(speed) - 1):
        if not (np.isnan(speed[i]) or np.isnan(speed[i + 1])):
            segs.append([(half_days[i], speed[i]), (half_days[i + 1], speed[i + 1])])
            seg_dir.append(direction[i])
    ax.add_collection(LineCollection(segs, array=np.array(seg_dir), cmap=wind_cmap, clim=(-10, 370), lw=2.8))
    ax.set_ylim(0.51, 16.45)
    ax.set_yticks([4, 8, 12, 16])
    ax.set_yticks([2, 6, 10, 14], minor=True)
    ax.tick_params(axis="y", which="major", length=19, width=2.2, pad=9, labelsize=29)
    ax.tick_params(axis="y", which="minor", length=10.5, width=2.2)

    cax = px_axes(fig, 1773, 1834, 57, 216.7)
    cax.imshow(np.arange(-11, 370).reshape(-1, 1), origin="lower", aspect="auto", cmap=wind_cmap,
               vmin=-10, vmax=370, extent=(0, 1, -11, 369))
    cax.set_xticks([])
    cax.yaxis.tick_right()
    cax.set_yticks([0, 100, 200, 300])
    cax.set_yticks([50, 150, 250, 350], minor=True)
    cax.tick_params(axis="y", which="major", length=18, width=2.4, pad=9)
    cax.tick_params(axis="y", which="minor", length=9, width=2.4)
    for sp in cax.spines.values():
        sp.set_linewidth(3)

    # (b) concentrations
    ax = px_axes(fig, 369, 1742, 281, 585)
    style_axes(ax, 10)
    ax.set_yscale("log")
    ax.set_ylim(10.0 ** -3.92, 10.0 ** 0.82)
    draw_gridlines(ax, [0, -1, -2, -3])
    draw_spread(ax, tap_lo, tap_hi, tap_light)
    draw_spread(ax, fap_lo, fap_hi, fap_light)
    draw_spread(ax, hfap_lo, hfap_hi, hfap_light)
    ax.plot(half_days, 10.0 ** np.array(tap_conc), color=tap_color, lw=4.2, zorder=3)
    ax.plot(half_days, 10.0 ** np.array(fap_conc), color=fap_color, lw=4.2, zorder=3)
    ax.plot(half_days, 10.0 ** np.array(hfap_conc), color=hfap_color, lw=4.2, zorder=3)
    ax.set_yticks([1, 0.1, 0.01, 0.001])
    ax.set_yticklabels(["", "0.1", "", "0.001"])
    ax.minorticks_off()
    ax.set_xticks([t for t in date_ticks if t not in (10, 35, 60)], minor=True)
    ax.tick_params(axis="y", length=19, width=2.2, pad=12, labelsize=29)

    # (c) fractions in TAP
    ax = px_axes(fig, 369, 1742, 633, 882)
    style_axes(ax, 10)
    ax.set_yscale("log")
    ax.set_ylim(10.0 ** -3.44, 1)
    draw_gridlines(ax, [0, -1, -2, -3])
    draw_spread(ax, fap_in_tap_lo, fap_in_tap_hi, fap_light)
    draw_spread(ax, hfap_in_tap_lo, hfap_in_tap_hi, hfap_light)
    ax.plot(half_days, 10.0 ** np.array(fap_in_tap), color=fap_color, lw=4.2, zorder=3)
    ax.plot(half_days, 10.0 ** np.array(hfap_in_tap), color=hfap_color, lw=4.2, zorder=3)
    ax.set_yticks([1, 0.1, 0.01, 0.001])
    ax.set_yticklabels(["1", "0.1", "0.01", "0.001"])
    ax.minorticks_off()
    ax.set_xticks([t for t in date_ticks if t not in (10, 35, 60)], minor=True)
    ax.tick_params(axis="y", length=19, width=2.2, pad=12, labelsize=29)

    # (d) and (e) mixing-state fractions
    ax = px_axes(fig, 369, 1742, 936, 1218)
    style_axes(ax, 5)
    draw_stack(ax, [fap_b, fap_bc, fap_a, fap_ab, fap_abc])

    ax = px_axes(fig, 369, 1742, 1277, 1555)
    style_axes(ax, 5)
    draw_stack(ax, [HFAP_B_TOP, hfap_bc, hfap_a, hfap_ab, hfap_abc], extra_gaps=[(58.6, 59.05)])

    # (f) HFAP_ABC and snow depth
    ax = px_axes(fig, 369, 1742, 1626, 1851)
    ax2 = ax.twinx()
    style_axes(ax, 10, long_ticks=tuple(date_ticks))
    ax.set_xticks([], minor=True)
    ax.set_zorder(ax2.get_zorder() + 1)
    ax.patch.set_visible(False)
    ax2.fill_between(snow_days, 0, snow_depth, color=snow_color, lw=0, clip_on=False)
    ax2.set_ylim(0, 32.77)
    ax2.set_xlim(-3.37, 83.86)
    for side in ("top", "left", "bottom"):
        ax2.spines[side].set_visible(False)
    ax2.spines["right"].set_position(("outward", 11.5 * 0.72))
    ax2.spines["right"].set_linewidth(2.2)
    ax2.set_yticks([0, 10, 20, 30])
    ax2.set_yticks([5, 15, 25], minor=True)
    ax2.tick_params(axis="y", which="major", length=20, width=2.4, pad=9, labelsize=29)
    ax2.tick_params(axis="y", which="minor", length=11, width=2.4)

    ax.vlines(whole_days, hfap_abc_lo, hfap_abc_hi, colors=abc_light, lw=3.2,
              linestyles=(0, (1.0, 1.0)), zorder=1)
    ax.plot(half_days, hfap_abc_conc, color=abc_color, lw=6.5, zorder=3)
    ax.set_ylim(-0.05, 2.157)
    ax.set_yticks([0, 0.5, 1.0, 1.5, 2.0])
    ax.set_yticklabels(["0.0", "0.5", "1.0", "1.5", "2.0"])
    ax.tick_params(axis="y", length=19, width=2.2, pad=9, labelsize=29)
    ax.set_xticks(date_ticks)
    ax.set_xticklabels(date_labels, rotation=45, ha="right", va="center", rotation_mode="anchor",
                       fontsize=29)
    ax.tick_params(axis="x", which="major", length=19.4, width=2.4, labelbottom=True, pad=13)

    # texts around the panels
    for s, x, y in (("(a)", 0, 20), ("(b)", 8, 292), ("(c)", 3, 642), ("(d)", 3, 939),
                    ("(e)", 3, 1278), ("(f)", 4, 1635)):
        label(fig, x, y, s, size=28, ha="left")
    label(fig, 105, 127, "Wind speed", rot=90)
    label(fig, 168, 127, "(m s$^{-1}$ )", rot=90)
    label(fig, 105, 432, "Concentration", rot=90)
    label(fig, 168, 431, "(cm$^{-3}$ )", rot=90)
    label(fig, 105, 756, "Fraction", rot=90)
    label(fig, 152, 758, "in TAP", rot=90)
    label(fig, 105, 1076, "Fraction", rot=90)
    label(fig, 152, 1077, "in FAP", rot=90)
    label(fig, 105, 1416, "Fraction", rot=90)
    label(fig, 152, 1416, "in HFAP", rot=90)
    label(fig, 105, 1737, "Concentration", rot=90)
    label(fig, 168, 1748, "(cm$^{-3}$ ) x 10$^{-3}$", rot=90)
    label(fig, 2015, 135, "Wind direction", size=27, rot=270)
    label(fig, 1969, 136, "(deg)", size=27, rot=270)
    label(fig, 1923, 1739, "Snow depth (cm)", rot=270)
    label(fig, 1056, 2082, "Date", size=28)

    # legends, placed by hand
    legend_line(fig, 475, 539, 32, "#808080")
    label(fig, 556, 32, "Wind speed", size=26, ha="left")
    for y, s, x, col in ((400, "TAP", 1910, tap_color), (441, "FAP_FL", 1921, fap_color),
                         (483, "HFAP_FL", 1910, hfap_color)):
        legend_line(fig, 1829, 1893, y, col, lw=3.6)
        label(fig, x, y, s, size=26, ha="left")
    for y, s, col in ((697, "FAP_FL", fap_color), (738, "HFAP_FL", hfap_color)):
        legend_line(fig, 1823, 1887, y, col, lw=3.6)
        label(fig, 1903, y, s, size=26, ha="left")
    for y, name in zip((961, 1002, 1045, 1086, 1128, 1169, 1211), stack_names):
        legend_box(fig, 1769, 1802, y, 24, stack_colors[name])
        label(fig, 1833, y, "FAP_" + name, size=26, ha="left")
    for y, name in zip((1297, 1338, 1380, 1421, 1463, 1504, 1547), stack_names):
        legend_box(fig, 1770, 1803, y, 24, stack_colors[name])
        label(fig, 1834, y, "HFAP_" + name, size=26, ha="left")
    legend_line(fig, 978, 1041, 1651, abc_color, lw=5.5)
    label(fig, 1057, 1651, "HFAP_ABC", size=26, ha="left")
    legend_box(fig, 995, 1027, 1695, 24, snow_color)
    label(fig, 1057, 1693, "Snow depth", size=26, ha="left")

    fig.savefig("out.png", dpi=100)


if __name__ == "__main__":
    main()
